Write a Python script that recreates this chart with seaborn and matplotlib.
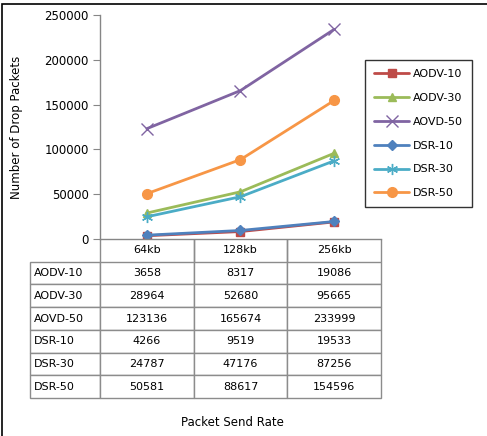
import matplotlib
matplotlib.use("Agg")
import matplotlib.pyplot as plt
from matplotlib.patches import Rectangle
import seaborn as sns

# data
rates = ["64kb", "128kb", "256kb"]
names = ["AODV-10", "AODV-30", "AOVD-50", "DSR-10", "DSR-30", "DSR-50"]
aodv10 = [3658, 8317, 19086]
aodv30 = [28964, 52680, 95665]
aovd50 = [123136, 165674, 233999]
dsr10 = [4266, 9519, 19533]
dsr30 = [24787, 47176, 87256]
dsr50 = [50581, 88617, 154596]
series = [aodv10, aodv30, aovd50, dsr10, dsr30, dsr50]

colors = ["#BE4B48", "#9BBB59", "#8064A2", "#4F81BD", "#4BACC6", "#F79646"]
markers = ["s", "^", "x", "D", (6, 2, 0), "o"]
msizes = [6, 6, 8, 5.5, 8, 7]

sns.set_style("white")
plt.rcParams["font.family"] = ["DejaVu Sans"]
plt.rcParams["text.color"] = "black"
plt.rcParams["ytick.color"] = "black"

fig = plt.figure(figsize=(4.87, 4.36), dpi=100)
ax = fig.add_axes([100 / 487, 1 - 239 / 436, 281 / 487, 224 / 436])

for name, vals, c, m, ms in zip(names, series, colors, markers, msizes):
    sns.lineplot(x=list(range(len(rates))), y=vals, color=c, marker=m, markersize=ms,
                 markeredgecolor=c, markeredgewidth=1, linewidth=2, label=name,
                 sort=False, ax=ax)

ax.set_xlim(-0.5, 2.5)
ax.set_ylim(0, 250000)
ax.set_yticks(range(0, 250001, 50000))
ax.set_yticklabels([str(v) for v in range(0, 250001, 50000)], fontsize=8.5)
ax.set_xticks([])
ax.tick_params(axis="y", length=5, color="#868686", labelcolor="black",
               direction="out", pad=3, left=True)
for s in ["top", "right"]:
    ax.spines[s].set_visible(False)
for s in ["left", "bottom"]:
    ax.spines[s].set_color("#868686")
    ax.spines[s].set_linewidth(1)
ax.set_ylabel("Number of Drop Packets", fontsize=8.5, color="black")
ax.yaxis.set_label_coords(-0.275, 0.5)

# data table under the axis
cell_text = [[n] + [str(v) for v in vals] for n, vals in zip(names, series)]
tbl = ax.table(cellText=cell_text, colLabels=[""] + rates,
               colWidths=[70, 93.5, 93.5, 93.5],
               cellLoc="center", bbox=[-70 / 281, -159 / 224, 351 / 281, 159 / 224])
tbl.auto_set_font_size(False)
tbl.set_fontsize(8)
for (r, c), cell in tbl.get_celld().items():
    cell.set_edgecolor("#8c8c8c")
    cell.set_linewidth(1)
    cell.get_text().set_color("black")
    if r == 0 and c == 0:
        cell.set_visible(False)
    elif r == 0:
        cell.visible_edges = "LR"
    if c == 0 and r > 0:
        cell.get_text().set_horizontalalignment("left")
        cell.PAD = 0.06

ax.text(0.47, -0.82, "Packet Send Rate", transform=ax.transAxes,
        ha="center", va="center", fontsize=8.5, color="black")

leg = ax.legend(loc="upper left", bbox_to_anchor=(365 / 487, 1 - 60 / 436),
                bbox_transform=fig.transFigure, fontsize=8, frameon=True,
                fancybox=False, handlelength=3.2, handletextpad=0.3,
                labelspacing=1.25, borderpad=0.8, borderaxespad=0)
leg.get_frame().set_edgecolor("black")
leg.get_frame().set_linewidth(1)
for t in leg.get_texts():
    t.set_color("black")

fig.patches.append(Rectangle((2 / 487, -0.1), 1.2, 1.1 - 4 / 436,
                             transform=fig.transFigure, fill=False,
                             edgecolor="black", linewidth=1.2))

fig.savefig("out.png", dpi=100)
